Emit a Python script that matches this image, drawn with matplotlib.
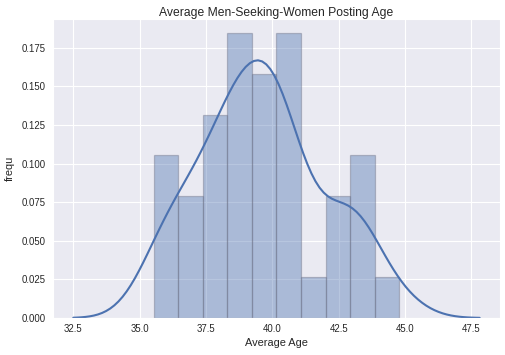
"""Average Men-Seeking-Women posting age: histogram + KDE (seaborn distplot look)."""
import numpy as np
import matplotlib
matplotlib.use("Agg")
import matplotlib.pyplot as plt
import seaborn as sns

# per-city average posting ages, estimated from the histogram (41 values, 10 bins)
ages = [
    35.53, 35.83, 36.05, 36.25,
    36.65, 36.95, 37.22,
    37.52, 37.75, 37.92, 38.05, 38.22,
    38.50, 38.62, 38.74, 38.85, 38.98, 39.08, 39.18,
    39.36, 39.55, 39.70, 39.84, 39.97, 40.08,
    40.20, 40.28, 40.38, 40.48, 40.58, 40.75, 40.88,
    41.60,
    42.25, 42.52, 42.82,
    43.00, 43.20, 43.40, 43.60,
    44.79,
]
n_bins = 10

title = "Average Men-Seeking-Women Posting Age"
xlabel = "Average Age"
ylabel = "frequ"


def _kde(x, gridsize=100, cut=3):
    # gaussian kde, scott bandwidth as statsmodels computes it
    x = np.asarray(x, dtype=float)
    n = len(x)
    iqr = np.subtract(*np.percentile(x, [75, 25]))
    a = min(np.std(x, ddof=1), iqr / 1.349)
    bw = 1.059 * a * n ** (-0.2)
    grid = np.linspace(x.min() - cut * bw, x.max() + cut * bw, gridsize)
    z = (grid[:, None] - x[None, :]) / bw
    dens = np.exp(-0.5 * z ** 2).sum(axis=1) / (n * bw * np.sqrt(2 * np.pi))
    return grid, dens


sns.set_style("darkgrid")
plt.rcParams["font.family"] = ["Liberation Sans", "DejaVu Sans"]

fig = plt.figure(figsize=(5.06, 3.55), dpi=100)
ax = fig.add_axes([0.1047, 0.1042, 0.8834, 0.8423])

color = "#4C72B0"
ax.hist(ages, bins=n_bins, density=True, color=color, alpha=0.4,
        edgecolor="#6a6d80", linewidth=0.9)
gx, gy = _kde(ages)
ax.plot(gx, gy, color=color, lw=1.5)

ax.set_ylim(bottom=0)
ax.set_xticks([32.5, 35.0, 37.5, 40.0, 42.5, 45.0, 47.5])
ax.set_yticks(np.arange(0, 0.176, 0.025))
ax.tick_params(labelsize=6.9, colors="#262626", length=0)
ax.tick_params(axis="x", pad=4)
ax.tick_params(axis="y", pad=5)
ax.set_title(title, fontsize=8.7, color="#262626", pad=2)
ax.set_xlabel(xlabel, fontsize=7.9, color="#262626", labelpad=3)
ax.set_ylabel(ylabel, fontsize=7.9, color="#262626", labelpad=5)

fig.savefig("out.png", dpi=100)
plt.close(fig)
